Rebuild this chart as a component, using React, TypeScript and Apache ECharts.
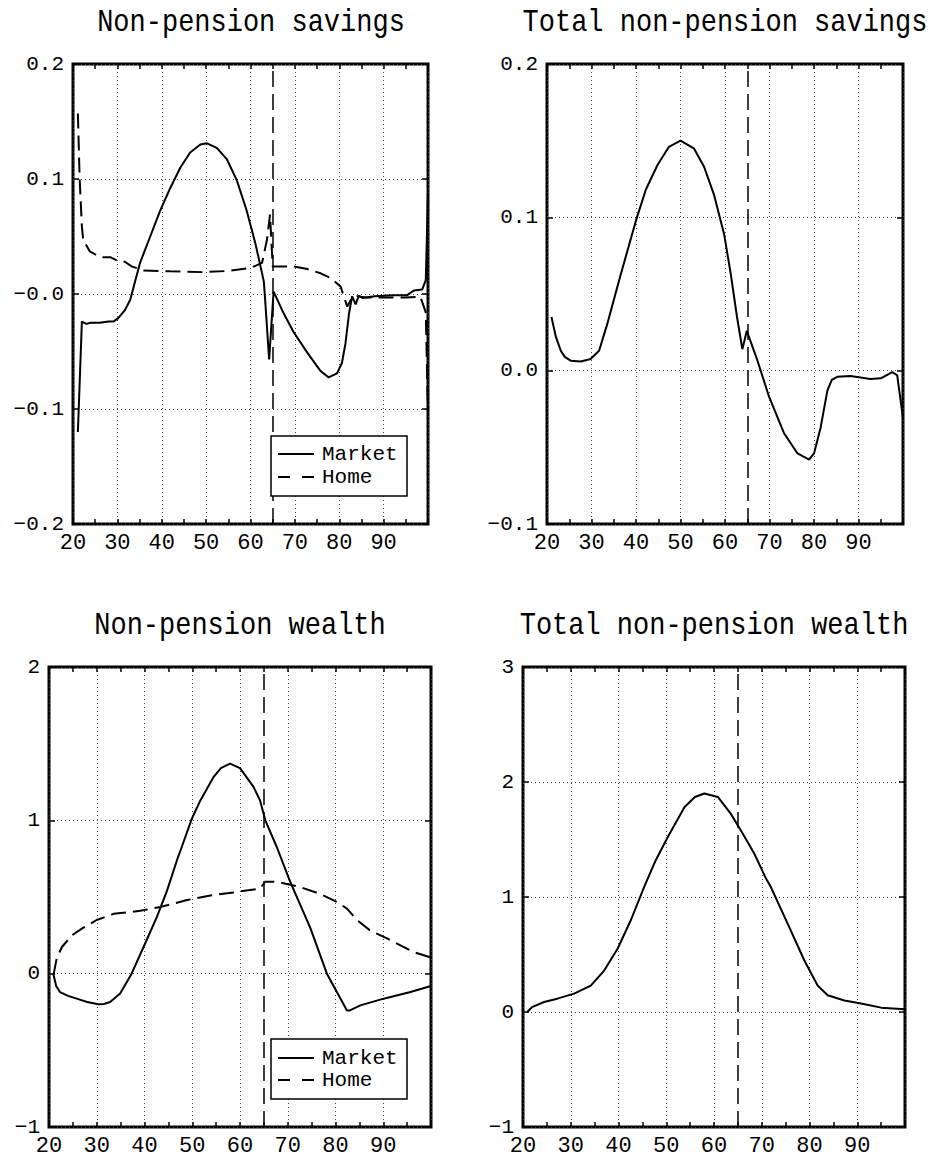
import React, { useEffect, useRef } from "react";
import * as echarts from "echarts";

// ---------- data (age, value) ----------
const savingsMarket: number[][] = [
  [21.1, -0.12], [22, -0.024], [23, -0.026], [24, -0.025], [26, -0.025], [28, -0.024], [29.1, -0.024],
  [30.2, -0.021], [31.7, -0.014], [32.9, -0.005], [34, 0.011], [35.1, 0.027], [37.4, 0.05], [39.6, 0.072],
  [41.9, 0.092], [44.2, 0.11], [46.4, 0.123], [48.7, 0.13], [50.2, 0.131], [52.4, 0.127], [54.7, 0.117],
  [56.9, 0.099], [59.1, 0.073], [61.1, 0.044], [63, 0.011], [63.3, -0.005], [64.2, -0.057], [65.2, 0.002],
  [67.5, -0.017], [69.7, -0.033], [72.8, -0.051], [75.8, -0.067], [77.6, -0.0725], [79.5, -0.069],
  [80.6, -0.06], [81.4, -0.043], [82.2, -0.017], [82.9, -0.002], [83.7, -0.009], [84.4, -0.0015],
  [85.2, -0.0035], [88, -0.002], [92, -0.001], [95.3, -0.001], [96.8, 0.003], [98.7, 0.004], [99.5, 0.012],
  [100, 0.088],
];
const savingsHome: number[][] = [
  [21.1, 0.157], [21.5, 0.1], [22, 0.059], [22.3, 0.047], [23.8, 0.037], [26.1, 0.032], [28.4, 0.032],
  [30, 0.029], [31.7, 0.028], [33.2, 0.024], [35.9, 0.0205], [41.9, 0.0197], [49.4, 0.019], [54.7, 0.02],
  [60, 0.0226], [62.6, 0.027], [63.7, 0.047], [64.4, 0.069], [65, 0.024], [67, 0.024], [69.7, 0.024],
  [72.8, 0.0217], [75.8, 0.018], [78, 0.014], [80.3, 0.0066], [81.8, -0.011], [82.9, -0.003], [84, -0.002],
  [86, -0.003], [90, -0.003], [95, -0.003], [98.3, -0.0025], [99.5, -0.016], [100, -0.105],
];
const totalSavings: number[][] = [
  [21, 0.035], [22, 0.022], [23.1, 0.013], [24, 0.009], [25.3, 0.0065], [27.6, 0.006], [29.8, 0.0076],
  [31.7, 0.013], [33.5, 0.03], [35, 0.046], [36.6, 0.063], [40, 0.098], [42.2, 0.118], [44.8, 0.134],
  [47.4, 0.146], [50, 0.15], [53, 0.145], [55.3, 0.133], [57.5, 0.115], [59.8, 0.089], [61.3, 0.063],
  [62.7, 0.035], [63.9, 0.014], [64.9, 0.026], [67.3, 0.0065], [69.9, -0.017], [73.3, -0.041],
  [76.3, -0.054], [78.9, -0.058], [80, -0.054], [81.5, -0.037], [83, -0.013], [84, -0.006], [85.2, -0.004],
  [88.2, -0.0035], [92.7, -0.0055], [95, -0.005], [97.6, -0.001], [98.7, -0.003], [100, -0.031],
];
const wealthMarket: number[][] = [
  [20.9, 0], [21.5, -0.08], [22.3, -0.12], [24, -0.145], [25.8, -0.163], [28, -0.185], [30.3, -0.2],
  [31.5, -0.198], [32.8, -0.185], [34.9, -0.13], [37.3, 0], [39.8, 0.174], [42.6, 0.37], [44.7, 0.54],
  [46.8, 0.74], [47.8, 0.826], [49.9, 1.01], [51.7, 1.13], [54.4, 1.28], [56, 1.34], [57.9, 1.37],
  [60, 1.34], [62.8, 1.22], [64.2, 1.13], [65.3, 1.0], [67.7, 0.826], [70.5, 0.6], [74.7, 0.3],
  [78.2, 0], [82.4, -0.24], [83, -0.24], [85.2, -0.207], [90.1, -0.163], [95.7, -0.12], [100, -0.08],
];
const wealthHome: number[][] = [
  [21, 0], [21.6, 0.098], [22.7, 0.174], [24.8, 0.25], [27.2, 0.3], [30, 0.35], [33.5, 0.39], [39.1, 0.41],
  [43.3, 0.435], [48.9, 0.48], [53.8, 0.51], [58.6, 0.53], [64.2, 0.555], [65.3, 0.6], [67, 0.6],
  [69.1, 0.59], [72.6, 0.565], [76.8, 0.52], [80.3, 0.467], [82.4, 0.424], [84.5, 0.35], [87.3, 0.28],
  [90.8, 0.23], [96.4, 0.14], [100, 0.105],
];
const totalWealth: number[][] = [
  [20.9, 0], [21.9, 0.043], [24.4, 0.087], [27.2, 0.116], [30.7, 0.16], [34.2, 0.23], [37, 0.36],
  [39.8, 0.55], [42.6, 0.8], [45.4, 1.09], [47.8, 1.32], [50.3, 1.52], [53.8, 1.78], [56, 1.87], [58, 1.9],
  [60.8, 1.87], [63.5, 1.725], [65.6, 1.58], [68.4, 1.38], [70.9, 1.16], [71.9, 1.087], [75.4, 0.77],
  [78.9, 0.45], [81.7, 0.23], [83.8, 0.145], [87.3, 0.1], [90.8, 0.073], [95, 0.038], [100, 0.023],
];

const titles = ["Non-pension savings", "Total non-pension savings", "Non-pension wealth", "Total non-pension wealth"];
const legendNames = ["Market", "Home"];
const retirementAge = 65;
const xTickHidden = [100];
const yLabelsTL: Record<string, string> = { "0.2": "0.2", "0.1": "0.1", "0": "\u22120.0", "-0.1": "\u22120.1", "-0.2": "\u22120.2" };
const yLabelsTR: Record<string, string> = { "0.2": "0.2", "0.1": "0.1", "0": "0.0", "-0.1": "\u22120.1" };
const yLabelsInt: Record<string, string> = { "3": "3", "2": "2", "1": "1", "0": "0", "-1": "\u22121" };

const FONT = '"Liberation Mono", "Courier New", monospace';

export default function App() {
  const ref = useRef<HTMLDivElement>(null);
  useEffect(() => {
    if (!ref.current) return;
    const chart = echarts.init(ref.current, undefined, { renderer: "svg" });

    const grids = [
      { left: 73, top: 64, width: 355, height: 460 },
      { left: 547, top: 64, width: 356, height: 460 },
      { left: 49, top: 667, width: 382, height: 460 },
      { left: 523, top: 667, width: 382, height: 460 },
    ];
    const yScales = [
      { min: -0.2, max: 0.2, interval: 0.1, labels: yLabelsTL },
      { min: -0.1, max: 0.2, interval: 0.1, labels: yLabelsTR },
      { min: -1, max: 2, interval: 1, labels: yLabelsInt },
      { min: -1, max: 3, interval: 1, labels: yLabelsInt },
    ];
    const dotted = { color: "#444", width: 1, type: [1, 3] as any };
    const tickStyle = { color: "#000", width: 1.5 };

    const xAxis: any[] = [];
    const yAxis: any[] = [];
    grids.forEach((_, i) => {
      xAxis.push({
        type: "value", gridIndex: i, min: 20, max: 100, interval: 10, position: "bottom",
        axisLine: { show: false, onZero: false },
        axisTick: { show: true, inside: true, length: 5, lineStyle: tickStyle },
        minorTick: { show: true, splitNumber: 2, length: 5, lineStyle: tickStyle },
        splitLine: { show: true, lineStyle: dotted },
        axisLabel: {
          color: "#000", fontFamily: FONT, fontSize: 22, margin: 8,
          formatter: (v: number) => (xTickHidden.includes(v) ? "" : String(v)),
        },
      });
      xAxis.push({
        type: "value", gridIndex: i, min: 20, max: 100, interval: 10, position: "top",
        axisLine: { show: false, onZero: false },
        axisTick: { show: true, inside: true, length: 5, lineStyle: tickStyle },
        minorTick: { show: true, splitNumber: 2, length: 5, lineStyle: tickStyle },
        splitLine: { show: false },
        axisLabel: { show: false },
      });
      const s = yScales[i];
      yAxis.push({
        type: "value", gridIndex: i, min: s.min, max: s.max, interval: s.interval, position: "left",
        axisLine: { show: false, onZero: false },
        axisTick: { show: true, inside: true, length: 6, lineStyle: tickStyle },
        splitLine: { show: true, lineStyle: dotted },
        axisLabel: {
          color: "#000", fontFamily: FONT, fontSize: 21, margin: 9,
          formatter: (v: number) => {
            const k = String(Math.round(v * 10) / 10);
            return s.labels[k] ?? k;
          },
        },
      });
      yAxis.push({
        type: "value", gridIndex: i, min: s.min, max: s.max, interval: s.interval, position: "right",
        axisLine: { show: false, onZero: false },
        axisTick: { show: true, inside: true, length: 6, lineStyle: tickStyle },
        splitLine: { show: false },
        axisLabel: { show: false },
      });
    });

    const retireLine = {
      silent: true,
      symbol: ["none", "none"],
      label: { show: false },
      lineStyle: { color: "#000", width: 1.5, type: [16, 7] },
      data: [{ xAxis: retirementAge }],
    };
    const solid = (name: string, data: number[][], i: number, withMark: boolean) => ({
      type: "line", name, data, xAxisIndex: 2 * i, yAxisIndex: 2 * i,
      showSymbol: false, symbol: "none", smooth: false,
      lineStyle: { color: "#000", width: 2 },
      markLine: withMark ? retireLine : undefined,
      z: 3,
    });
    const dashed = (name: string, data: number[][], i: number) => ({
      type: "line", name, data, xAxisIndex: 2 * i, yAxisIndex: 2 * i,
      showSymbol: false, symbol: "none", smooth: false,
      lineStyle: { color: "#000", width: 2, type: [15, 7] },
      z: 3,
    });

    const series = [
      solid(legendNames[0], savingsMarket, 0, true),
      dashed(legendNames[1], savingsHome, 0),
      solid("Total", totalSavings, 1, true),
      solid(legendNames[0], wealthMarket, 2, true),
      dashed(legendNames[1], wealthHome, 2),
      solid("Total", totalWealth, 3, true),
    ];

    const titleSpecs = [
      { x: 251, y: 23 },
      { x: 725, y: 23 },
      { x: 240, y: 626 },
      { x: 714, y: 626 },
    ];
    const graphic: any[] = titleSpecs.map((t, i) => ({
      type: "text", x: t.x, y: t.y, z: 10, scaleY: 1.15,
      style: {
        text: titles[i], fill: "#000", font: `27px ${FONT}`,
        textAlign: "center", textVerticalAlign: "middle", align: "center", verticalAlign: "middle",
      },
    }));
    const legendBoxes = [
      { x: 271, y: 436, rowA: 454, rowB: 477 },
      { x: 271, y: 1039, rowA: 1058, rowB: 1080 },
    ];
    legendBoxes.forEach((b) => {
      graphic.push({
        type: "rect", z: 20,
        shape: { x: b.x, y: b.y, width: 136, height: 60 },
        style: { fill: "#fff", stroke: "#000", lineWidth: 1.5 },
      });
      graphic.push({
        type: "line", z: 21,
        shape: { x1: b.x + 7, y1: b.rowA, x2: b.x + 43, y2: b.rowA },
        style: { stroke: "#000", lineWidth: 2 },
      });
      graphic.push({
        type: "line", z: 21,
        shape: { x1: b.x + 7, y1: b.rowB, x2: b.x + 43, y2: b.rowB },
        style: { stroke: "#000", lineWidth: 2, lineDash: [12, 12] },
      });
      graphic.push({
        type: "text", z: 21, x: b.x + 51, y: b.rowA,
        style: { text: legendNames[0], fill: "#000", font: `21px ${FONT}`, verticalAlign: "middle", textVerticalAlign: "middle" },
      });
      graphic.push({
        type: "text", z: 21, x: b.x + 51, y: b.rowB,
        style: { text: legendNames[1], fill: "#000", font: `21px ${FONT}`, verticalAlign: "middle", textVerticalAlign: "middle" },
      });
    });

    chart.setOption({
      animation: false,
      backgroundColor: "#fff",
      grid: grids.map((g) => ({ ...g, show: true, borderColor: "#000", borderWidth: 3, backgroundColor: "transparent", containLabel: false })),
      xAxis,
      yAxis,
      series,
      graphic,
    });
    return () => chart.dispose();
  }, []);
  return <div ref={ref} style={{ position: "absolute", left: 0, top: 0, width: 928, height: 1160 }} />;
}
